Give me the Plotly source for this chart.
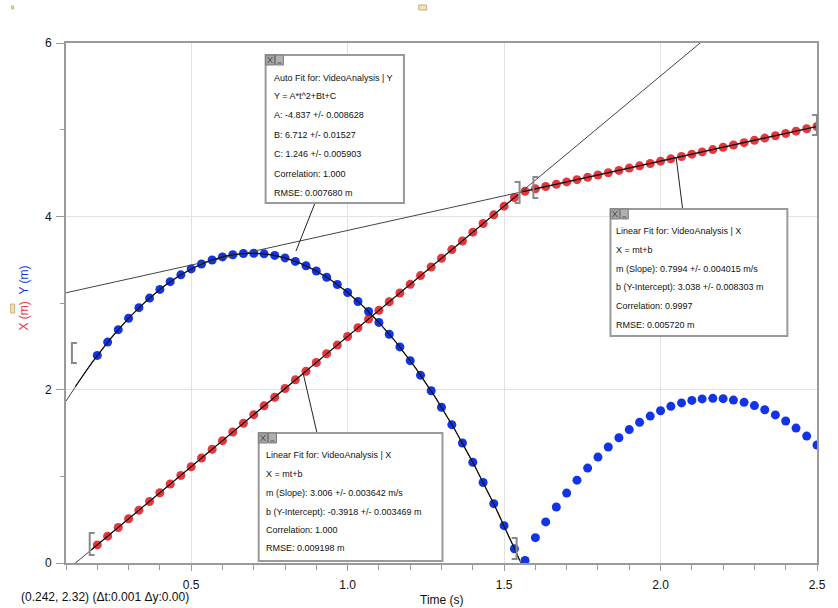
import numpy as np
import plotly.graph_objects as go

# ---------------- data ----------------
time_s = [0.200, 0.233, 0.267, 0.300, 0.333, 0.367, 0.400, 0.433, 0.467, 0.500,
          0.533, 0.567, 0.600, 0.633, 0.667, 0.700, 0.733, 0.767, 0.800, 0.833,
          0.867, 0.900, 0.933, 0.967, 1.000, 1.033, 1.067, 1.100, 1.133, 1.167,
          1.200, 1.233, 1.267, 1.300, 1.333, 1.367, 1.400, 1.433, 1.467, 1.500,
          1.533, 1.567, 1.600, 1.633, 1.667, 1.700, 1.733, 1.767, 1.800, 1.833,
          1.867, 1.900, 1.933, 1.967, 2.000, 2.033, 2.067, 2.100, 2.133, 2.167,
          2.200, 2.233, 2.267, 2.300, 2.333, 2.367, 2.400, 2.433, 2.467, 2.500]

x_m = [0.209, 0.310, 0.410, 0.510, 0.610, 0.710, 0.811, 0.911, 1.011, 1.111,
       1.211, 1.312, 1.412, 1.512, 1.612, 1.712, 1.813, 1.913, 2.013, 2.113,
       2.213, 2.314, 2.414, 2.514, 2.614, 2.714, 2.815, 2.915, 3.015, 3.115,
       3.215, 3.316, 3.416, 3.516, 3.616, 3.716, 3.817, 3.917, 4.017, 4.117,
       4.217, 4.290, 4.317, 4.344, 4.370, 4.397, 4.423, 4.450, 4.477, 4.503,
       4.530, 4.557, 4.583, 4.610, 4.637, 4.663, 4.690, 4.717, 4.743, 4.770,
       4.797, 4.823, 4.850, 4.877, 4.903, 4.930, 4.957, 4.983, 5.010, 5.037]

y_m = [2.395, 2.549, 2.692, 2.824, 2.946, 3.057, 3.157, 3.246, 3.325, 3.393,
       3.450, 3.496, 3.532, 3.557, 3.571, 3.574, 3.567, 3.549, 3.520, 3.480,
       3.430, 3.369, 3.297, 3.214, 3.121, 3.017, 2.902, 2.776, 2.640, 2.493,
       2.335, 2.167, 1.987, 1.797, 1.596, 1.385, 1.162, 0.929, 0.685, 0.431,
       0.165, 0.030, 0.292, 0.474, 0.646, 0.807, 0.956, 1.095, 1.222, 1.339,
       1.445, 1.539, 1.623, 1.695, 1.757, 1.808, 1.847, 1.876, 1.893, 1.900,
       1.896, 1.880, 1.854, 1.816, 1.768, 1.709, 1.638, 1.557, 1.464, 1.361]

# fit parameters
fitA, fitB, fitC = -4.837, 6.712, 1.246
m1, b1 = 3.006, -0.3918
m2, b2 = 0.7994, 3.038

x_tick_vals = [0.5, 1.0, 1.5, 2.0, 2.5]
x_tick_text = ["0.5", "1.0", "1.5", "2.0", "2.5"]
y_tick_vals = [0, 2, 4, 6]
y_tick_text = ["0", "2", "4", "6"]

box1_lines = ["Auto Fit for: VideoAnalysis | Y", "Y = A*t^2+Bt+C",
              "A: -4.837 +/- 0.008628", "B: 6.712 +/- 0.01527",
              "C: 1.246 +/- 0.005903", "Correlation: 1.000", "RMSE: 0.007680 m"]
box2_lines = ["Linear Fit for: VideoAnalysis | X", "X = mt+b",
              "m (Slope): 3.006 +/- 0.003642 m/s",
              "b (Y-Intercept): -0.3918 +/- 0.003469 m",
              "Correlation: 1.000", "RMSE: 0.009198 m"]
box3_lines = ["Linear Fit for: VideoAnalysis | X", "X = mt+b",
              "m (Slope): 0.7994 +/- 0.004015 m/s",
              "b (Y-Intercept): 3.038 +/- 0.008303 m",
              "Correlation: 0.9997", "RMSE: 0.005720 m"]

RED = "#e8363d"
BLUE = "#1034e6"
FONT = "Liberation Sans, Arial, Helvetica, sans-serif"

XMIN, XMAX, YMIN, YMAX = 0.1, 2.5, 0.0, 6.0
FIG_W, FIG_H = 838, 608
L, R, T, B = 66, 826, 43, 563


def px(x):
    return (x - L) / (R - L)


def py(y):
    return (B - y) / (B - T)


def dx(t):
    return (t - XMIN) / (XMAX - XMIN)


def dy(v):
    return (v - YMIN) / (YMAX - YMIN)


fig = go.Figure()

fig.add_trace(go.Scatter(x=time_s, y=x_m, mode="markers",
                         marker=dict(color=RED, size=9), hoverinfo="skip"))
fig.add_trace(go.Scatter(x=time_s, y=y_m, mode="markers",
                         marker=dict(color=BLUE, size=9), hoverinfo="skip"))

tt = np.linspace(XMIN, XMAX, 400)
fig.add_trace(go.Scatter(x=tt, y=m1 * tt + b1, mode="lines",
                         line=dict(color="#444", width=1), hoverinfo="skip"))
fig.add_trace(go.Scatter(x=tt, y=m2 * tt + b2, mode="lines",
                         line=dict(color="#444", width=1), hoverinfo="skip"))
fig.add_trace(go.Scatter(x=tt, y=fitA * tt ** 2 + fitB * tt + fitC, mode="lines",
                         line=dict(color="#444", width=1), hoverinfo="skip"))
t1 = np.linspace(0.18, 1.545, 200)
fig.add_trace(go.Scatter(x=t1, y=m1 * t1 + b1, mode="lines",
                         line=dict(color="#111", width=1.2), hoverinfo="skip"))
t2 = np.linspace(1.56, 2.5, 200)
fig.add_trace(go.Scatter(x=t2, y=m2 * t2 + b2, mode="lines",
                         line=dict(color="#111", width=1.2), hoverinfo="skip"))
t3 = np.linspace(0.13, 1.55, 300)
fig.add_trace(go.Scatter(x=t3, y=fitA * t3 ** 2 + fitB * t3 + fitC, mode="lines",
                         line=dict(color="#111", width=1.2), hoverinfo="skip"))

shapes = []
annotations = []


def bracket(x0, x1, y0, y1, left=True):
    if left:
        path = f"M {px(x1)},{py(y0)} L {px(x0)},{py(y0)} L {px(x0)},{py(y1)} L {px(x1)},{py(y1)}"
    else:
        path = f"M {px(x0)},{py(y0)} L {px(x1)},{py(y0)} L {px(x1)},{py(y1)} L {px(x0)},{py(y1)}"
    shapes.append(dict(type="path", xref="paper", yref="paper", path=path,
                       line=dict(color="#8a8a8a", width=2)))


bracket(90, 95, 533, 555, True)
bracket(517, 522, 538, 559, False)
bracket(520, 525, 182, 203, False)
bracket(539, 544, 177, 198, True)
bracket(821, 826, 115, 135, False)
bracket(72, 77, 343, 363, True)


def pointer(bxp, byp, t, v):
    shapes.append(dict(type="line", xref="paper", yref="paper",
                       x0=px(bxp), y0=py(byp), x1=dx(t), y1=dy(v),
                       line=dict(color="#222", width=1)))


pointer(318, 203, 0.835, 3.60)
pointer(320, 433, 0.858, m1 * 0.858 + b1)
pointer(690, 209, 2.05, m2 * 2.05 + b2)


def box(x0, y0, x1, y1, lines, ys, tx):
    shapes.append(dict(type="rect", xref="paper", yref="paper",
                       x0=px(x0), y0=py(y0), x1=px(x1), y1=py(y1),
                       fillcolor="white", line=dict(color="#9a9a9a", width=2)))
    shapes.append(dict(type="rect", xref="paper", yref="paper",
                       x0=px(x0), y0=py(y0), x1=px(x0 + 9), y1=py(y0 + 10),
                       fillcolor="#a4a4a4", line=dict(color="#7a7a7a", width=1)))
    shapes.append(dict(type="line", xref="paper", yref="paper",
                       x0=px(x0 + 2), y0=py(y0 + 2), x1=px(x0 + 7), y1=py(y0 + 8),
                       line=dict(color="#505050", width=1)))
    shapes.append(dict(type="line", xref="paper", yref="paper",
                       x0=px(x0 + 2), y0=py(y0 + 8), x1=px(x0 + 7), y1=py(y0 + 2),
                       line=dict(color="#505050", width=1)))
    shapes.append(dict(type="rect", xref="paper", yref="paper",
                       x0=px(x0 + 10), y0=py(y0), x1=px(x0 + 18), y1=py(y0 + 10),
                       fillcolor="#b0b0b0", line=dict(color="#7a7a7a", width=1)))
    shapes.append(dict(type="line", xref="paper", yref="paper",
                       x0=px(x0 + 12), y0=py(y0 + 8), x1=px(x0 + 16), y1=py(y0 + 8),
                       line=dict(color="#505050", width=1)))
    for txt, yy in zip(lines, ys):
        annotations.append(dict(xref="paper", yref="paper", x=px(tx), y=py(yy),
                                xanchor="left", yanchor="middle", showarrow=False,
                                text=txt, font=dict(family=FONT, size=9, color="#111")))


box(268, 55, 408, 203, box1_lines, [77.5, 96.5, 115.5, 135, 154, 173.5, 192.5], 274)
box(261, 433, 447, 561, box2_lines, [455, 474, 492.5, 511.5, 529.5, 547.5], 266)
box(617, 209, 796, 336, box3_lines, [231, 250, 269, 287, 305.5, 324.5], 621)

for (a, b_, c, d) in [(10, 304, 14, 313), (423, 5, 431, 10), (11, 6, 13, 9)]:
    shapes.append(dict(type="rect", xref="paper", yref="paper",
                       x0=px(a), y0=py(b_), x1=px(c), y1=py(d),
                       fillcolor="#f3e2b6", line=dict(color="#c9b07a", width=1)))

annotations.append(dict(xref="paper", yref="paper", x=px(24), y=py(298),
                        xanchor="center", yanchor="middle", showarrow=False, textangle=-90,
                        text=f"<span style='color:{RED}'>X (m)</span>&nbsp;&nbsp;<span style='color:{BLUE}'>Y (m)</span>",
                        font=dict(family=FONT, size=12)))
annotations.append(dict(xref="paper", yref="paper", x=0.5, y=py(600),
                        xanchor="center", yanchor="middle", showarrow=False,
                        text="Time (s)", font=dict(family=FONT, size=12, color="#111")))
annotations.append(dict(xref="paper", yref="paper", x=px(18), y=py(597),
                        xanchor="left", yanchor="middle", showarrow=False,
                        text="(0.242, 2.32) (Δt:0.001 Δy:0.00)",
                        font=dict(family=FONT, size=12, color="#111")))

fig.update_layout(
    width=FIG_W, height=FIG_H,
    margin=dict(l=L, r=FIG_W - R, t=T, b=FIG_H - B),
    paper_bgcolor="white", plot_bgcolor="white",
    showlegend=False,
    shapes=shapes, annotations=annotations,
    font=dict(family=FONT, size=12, color="#111"),
    xaxis=dict(range=[XMIN, XMAX], tickvals=x_tick_vals, ticktext=x_tick_text,
               showline=True, linecolor="#9a9a9a", linewidth=2, mirror=True,
               ticks="outside", ticklen=6, tickcolor="#9a9a9a", tickwidth=1,
               showgrid=True, gridcolor="#e2e2e2", gridwidth=1, zeroline=False,
               ticklabelstandoff=4,
               minor=dict(dtick=0.1, tick0=0, ticks="outside", ticklen=5,
                          tickcolor="#9a9a9a", showgrid=False)),
    yaxis=dict(range=[YMIN, YMAX], tickvals=y_tick_vals, ticktext=y_tick_text,
               showline=True, linecolor="#9a9a9a", linewidth=2, mirror=True,
               ticks="outside", ticklen=8, tickcolor="#9a9a9a", tickwidth=1,
               showgrid=True, gridcolor="#e2e2e2", gridwidth=1, zeroline=False,
               ticklabelstandoff=2,
               minor=dict(dtick=1, tick0=0, ticks="outside", ticklen=4,
                          tickcolor="#9a9a9a", showgrid=False)),
)

fig.write_html(
    "out.html",
    config={"displayModeBar": False},
    post_script="document.body.style.margin='0px';document.body.style.padding='0px';"
                "document.documentElement.style.overflow='hidden';",
)
